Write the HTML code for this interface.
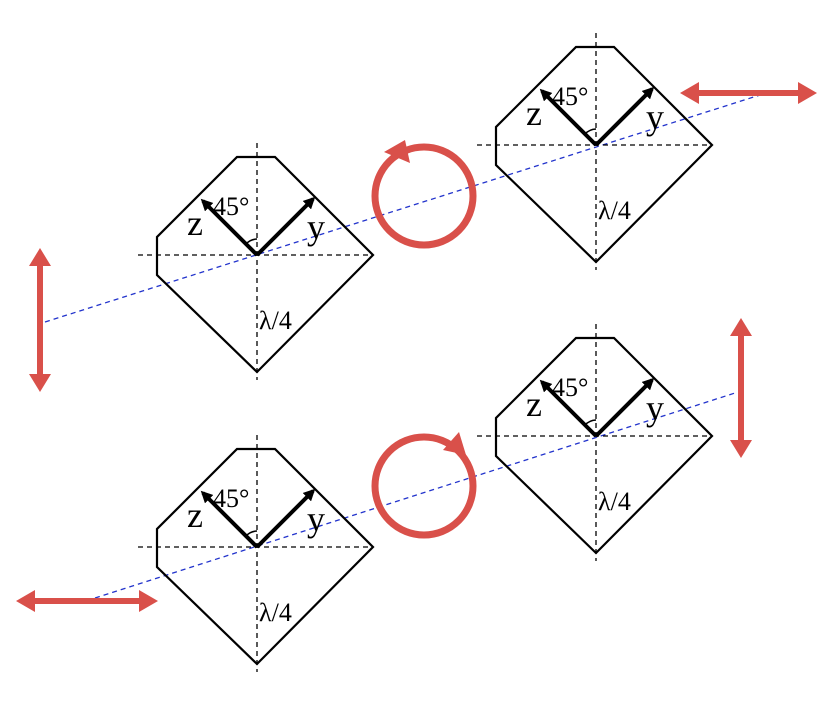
<!DOCTYPE html>
<html><head><meta charset="utf-8"><style>
html,body{margin:0;padding:0;background:#fff;}
svg{display:block;}
text{font-family:"Liberation Serif",serif;fill:#000;}
.big{font-size:36px;}
.mid{font-size:26px;}
</style></head><body>
<svg width="839" height="719" viewBox="0 0 839 719" xmlns="http://www.w3.org/2000/svg">
<defs>
<marker id="ah" markerWidth="3" markerHeight="3" refX="2.2" refY="1.5" orient="auto" markerUnits="strokeWidth">
<path d="M0,0 L3,1.5 L0,3 z" fill="#000"/></marker>
<g id="plate">
<polygon points="-20,-98 18,-98 116,0 0,117 -100,20 -100,-18" fill="none" stroke="#000" stroke-width="2.2"/>
<line x1="0" y1="-112" x2="0" y2="125" stroke="#000" stroke-width="1.3" stroke-dasharray="5,4"/>
<line x1="-119" y1="0" x2="116" y2="0" stroke="#000" stroke-width="1.3" stroke-dasharray="5,4"/>
<line x1="0" y1="0" x2="-54" y2="-54" stroke="#000" stroke-width="4" marker-end="url(#ah)"/>
<line x1="0" y1="0" x2="56" y2="-56" stroke="#000" stroke-width="4" marker-end="url(#ah)"/>
<path d="M-11,-11 A16,16 0 0 1 0,-16" fill="none" stroke="#000" stroke-width="1.5"/>
<text x="-70" y="-20" class="big">z</text>
<text x="-44" y="-40" class="mid">45°</text>
<text x="50" y="-16" class="big">y</text>
<text x="2" y="74" class="mid">λ/4</text>
</g>
</defs>
<line x1="45" y1="322" x2="760" y2="95" stroke="#2233cc" stroke-width="1.3" stroke-dasharray="5,4"/>
<line x1="95" y1="598" x2="735" y2="393" stroke="#2233cc" stroke-width="1.3" stroke-dasharray="5,4"/>
<use href="#plate" x="257" y="255"/>
<use href="#plate" x="596" y="145"/>
<use href="#plate" x="596" y="436"/>
<use href="#plate" x="257" y="547"/>
<g stroke="#d9504a" fill="#d9504a">
<circle cx="424" cy="196" r="49" fill="none" stroke-width="7"/>
<polygon points="384,152 405,140 410,163" stroke="none"/>
<circle cx="424" cy="486" r="49" fill="none" stroke-width="7"/>
<polygon points="466,455 459,432 443,450" stroke="none"/>
<g stroke-width="6">
<line x1="40" y1="262" x2="40" y2="378"/>
<line x1="695" y1="93" x2="803" y2="93"/>
<line x1="741" y1="332" x2="741" y2="444"/>
<line x1="30" y1="601" x2="145" y2="601"/>
</g>
<g stroke="none">
<polygon points="40,248 29,266 51,266"/><polygon points="40,392 29,374 51,374"/>
<polygon points="680,93 699,82 699,104"/><polygon points="817,93 798,82 798,104"/>
<polygon points="741,318 730,336 752,336"/><polygon points="741,458 730,440 752,440"/>
<polygon points="16,601 35,590 35,612"/><polygon points="158,601 139,590 139,612"/>
</g>
</g>
</svg>
</body></html>
